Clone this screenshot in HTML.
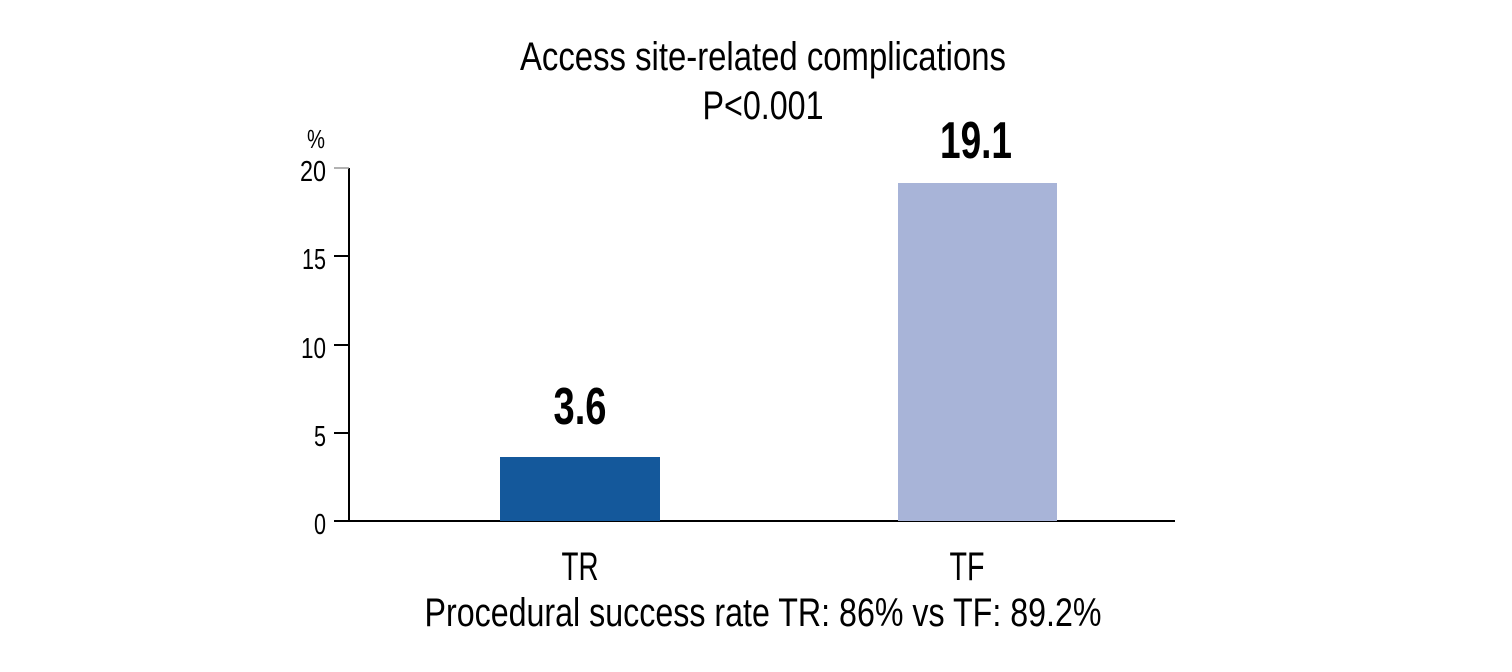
<!DOCTYPE html>
<html><head><style>html,body{margin:0;padding:0;background:#fff;}svg{display:block}</style></head>
<body>
<svg width="1512" height="672" xmlns="http://www.w3.org/2000/svg" font-family="'Liberation Sans Narrow','Liberation Sans',sans-serif" fill="#000">
<text x="763" y="70" font-size="40" text-anchor="middle" textLength="486" lengthAdjust="spacingAndGlyphs">Access site-related complications</text>
<text x="763" y="119" font-size="40" text-anchor="middle" textLength="121" lengthAdjust="spacingAndGlyphs">P&lt;0.001</text>
<text x="316" y="148" font-size="26" text-anchor="middle" textLength="18" lengthAdjust="spacingAndGlyphs">%</text>
<g font-size="29" text-anchor="end">
<text x="326" y="181" textLength="26" lengthAdjust="spacingAndGlyphs">20</text>
<text x="326" y="269" textLength="24" lengthAdjust="spacingAndGlyphs">15</text>
<text x="326" y="358" textLength="25" lengthAdjust="spacingAndGlyphs">10</text>
<text x="326" y="446" textLength="12" lengthAdjust="spacingAndGlyphs">5</text>
<text x="326" y="534" textLength="12" lengthAdjust="spacingAndGlyphs">0</text>
</g>
<g stroke="#000" stroke-width="2">
<line x1="349" y1="168" x2="349" y2="522"/>
<line x1="334" y1="521" x2="1175" y2="521"/>
<line x1="334" y1="256" x2="349" y2="256"/>
<line x1="334" y1="345" x2="349" y2="345"/>
<line x1="334" y1="433" x2="349" y2="433"/>
</g>
<line x1="334" y1="168" x2="349" y2="168" stroke="#999" stroke-width="1.5"/>
<rect x="500" y="457" width="160" height="64" fill="#14589b"/>
<rect x="898" y="183" width="159" height="338" fill="#a8b4d8"/>
<text x="580" y="424" font-size="52" font-weight="bold" text-anchor="middle" textLength="53" lengthAdjust="spacingAndGlyphs">3.6</text>
<text x="976" y="158" font-size="52" font-weight="bold" text-anchor="middle" textLength="72" lengthAdjust="spacingAndGlyphs">19.1</text>
<text x="580" y="580" font-size="40" text-anchor="middle" textLength="37" lengthAdjust="spacingAndGlyphs">TR</text>
<text x="967" y="580" font-size="40" text-anchor="middle" textLength="35" lengthAdjust="spacingAndGlyphs">TF</text>
<text x="763" y="626" font-size="40" text-anchor="middle" textLength="677" lengthAdjust="spacingAndGlyphs">Procedural success rate TR: 86% vs TF: 89.2%</text>
</svg>
</body></html>
